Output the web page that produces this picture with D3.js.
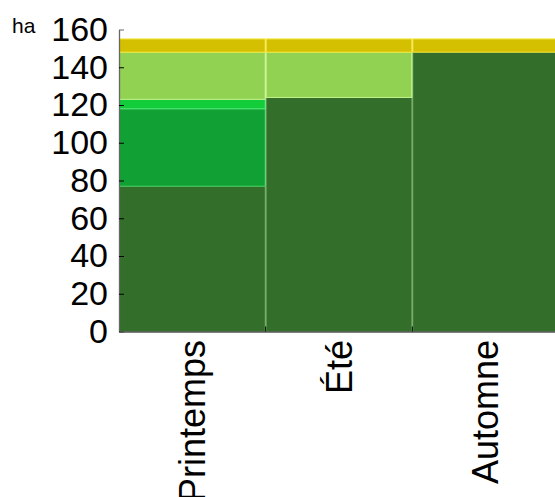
<!DOCTYPE html>
<html>
<head>
<meta charset="utf-8">
<script src="https://cdn.jsdelivr.net/npm/d3@7"></script>
<style>
  body { margin: 0; background: #fff; }
  text { font-family: "Liberation Sans", Arial, sans-serif; fill: #000; }
</style>
</head>
<body>
<div id="chart"></div>
<script>
const seasons = ["Printemps", "Été", "Automne"];
const layers = ["l1", "l2", "l3", "l4", "l5"];
// values in ha, bottom to top
const l1 = [77, 124, 148];
const l2 = [41, 0, 0];
const l3 = [5, 0, 0];
const l4 = [25, 24, 0];
const l5 = [7, 7, 7];
const yTicks = [0, 20, 40, 60, 80, 100, 120, 140, 160];

const fills = ["#336e2a", "#10a033", "#12cc3a", "#92d252", "#d4c000"];
const strokes = ["#5e9c52", "#3fd060", "#50e878", "#c4f08a", "#f4e63c"];

const width = 555, height = 497;
const margin = {top: 29.5, left: 119, bottom: 165.5};

const rows = seasons.map((s, i) => ({season: s, l1: l1[i], l2: l2[i], l3: l3[i], l4: l4[i], l5: l5[i]}));
const stack = d3.stack().keys(layers)(rows);

const x = d3.scaleBand().domain(seasons).range([margin.left, 559]).padding(0);
const y = d3.scaleLinear().domain([0, 160]).range([height - margin.bottom, margin.top]);

const svg = d3.select("#chart").append("svg")
    .attr("width", width).attr("height", height);

svg.append("g")
  .selectAll("g")
  .data(stack)
  .join("g")
    .attr("fill", (d, i) => fills[i])
    .attr("stroke", (d, i) => strokes[i])
  .selectAll("rect")
  .data(d => d.filter(p => p[1] > p[0]))
  .join("rect")
    .attr("x", d => x(d.data.season) + 0.5)
    .attr("width", x.bandwidth() - 1)
    .attr("y", d => y(d[1]))
    .attr("height", d => y(d[0]) - y(d[1]));

// y axis, ticks pointing inward
const yAxis = svg.append("g")
    .attr("transform", `translate(${margin.left},0)`)
    .call(d3.axisLeft(y).tickValues(yTicks).tickSizeInner(-5).tickSizeOuter(0).tickPadding(11));
yAxis.select(".domain").attr("stroke", "#666").attr("stroke-width", 1.3);
yAxis.selectAll(".tick line").attr("stroke", "#000");
yAxis.selectAll(".tick").filter(d => d === 160).select("line").attr("stroke", "#666");
yAxis.selectAll(".tick text")
    .attr("font-size", 34)
    .attr("font-family", "Liberation Sans, Arial, sans-serif")
    .attr("fill", "#000");

// x axis
const xAxis = svg.append("g")
    .attr("transform", `translate(0,${y(0)})`)
    .call(d3.axisBottom(x).tickSize(0).tickFormat(""));
xAxis.select(".domain").attr("stroke", "#555").attr("stroke-width", 1.3);
xAxis.selectAll(".tick").remove();

// boundary ticks between categories
svg.append("g")
  .selectAll("line")
  .data(seasons.slice(1))
  .join("line")
    .attr("x1", d => x(d)).attr("x2", d => x(d))
    .attr("y1", y(0) - 5).attr("y2", y(0))
    .attr("stroke", "#000");

svg.append("g")
  .selectAll("text")
  .data(seasons)
  .join("text")
    .attr("transform", d => `translate(${x(d) + x.bandwidth() / 2},340) rotate(-90)`)
    .attr("dy", "0.35em")
    .attr("text-anchor", "end")
    .attr("font-size", 36)
    .text(d => d);

svg.append("text")
    .attr("x", 12).attr("y", 33)
    .attr("font-size", 21)
    .text("ha");
</script>
</body>
</html>
